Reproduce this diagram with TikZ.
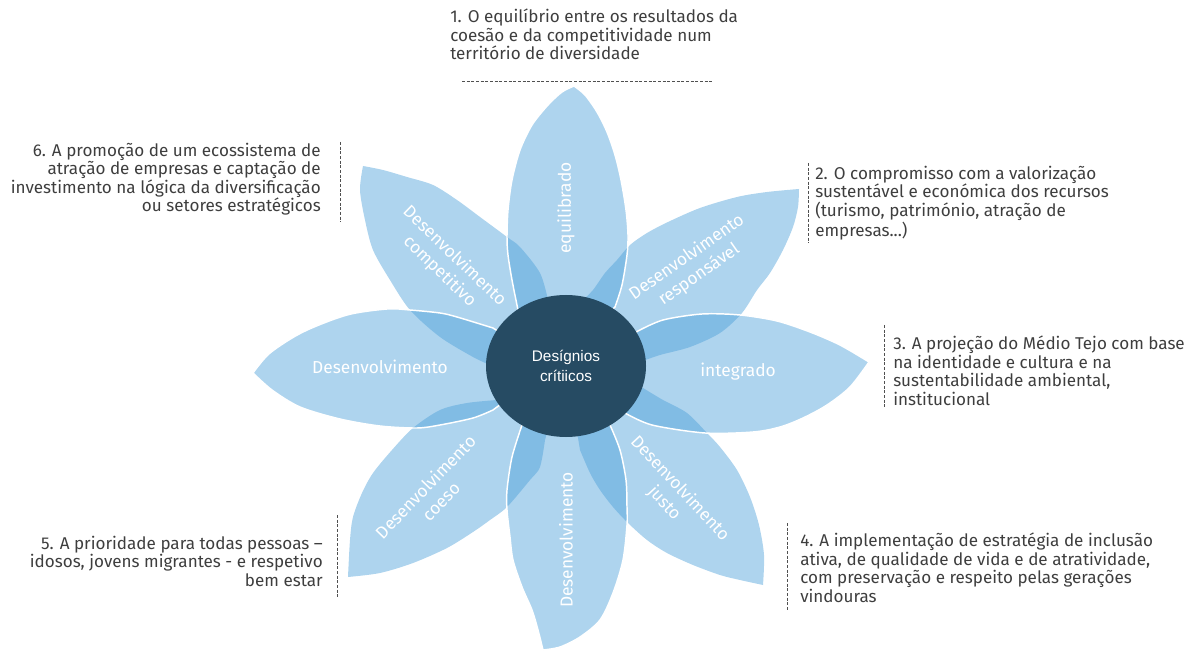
\documentclass[tikz,border=0pt]{standalone}
\usepackage{fontspec}
\setmainfont{Fira Sans}
\newfontfamily\corefont{Liberation Sans}
\definecolor{petalblue}{RGB}{75,159,217}
\definecolor{coreblue}{RGB}{38,75,99}
\definecolor{descgray}{RGB}{62,62,62}
\definecolor{dashgray}{RGB}{80,80,80}
\begin{document}
\begin{tikzpicture}[x=0.75pt,y=-0.75pt,
  petal/.style={fill=petalblue, fill opacity=0.45},
  cpetal/.style={petal, draw=white, draw opacity=1, line width=1.1pt, line join=round},
  desc/.style={font=\fontsize{12.8}{13.8}\selectfont, text=descgray, inner sep=0pt},
  plabel/.style={font=\fontsize{13}{16}\selectfont, text=white, align=center, inner sep=0pt},
  dashline/.style={draw=dashgray, line width=0.75pt, dash pattern=on 2.2pt off 1.3pt}]
\useasboundingbox (0,0) rectangle (1196,652);

% diagonal petals (no visible stroke)
\path[petal] (566,366) -- plot[smooth, tension=0.5] coordinates {(548,300) (540,273) (520,247) (507,237) (480,217) (457,200) (433,185) (407,177) (383,170) (363,166)}
  -- plot[smooth, tension=0.5] coordinates {(363,166) (360,190) (365,220) (373,250) (390,280) (410,310) (440,337) (473,357) (490,365)} -- cycle;
\path[petal] (566,366) -- plot[smooth, tension=0.5] coordinates {(583,300) (593,290) (605,273) (617,260) (630,245) (647,233) (668,222) (700,208) (737,197) (767,192) (799,189)}
  -- plot[smooth, tension=0.5] coordinates {(799,189) (798,207) (793,227) (783,250) (770,273) (757,290) (742,313) (720,333) (690,347) (660,355) (640,362)} -- cycle;
\path[petal] (566,366) -- plot[smooth, tension=0.5] coordinates {(643,388) (663,400) (687,413) (707,433) (720,447) (737,470) (750,497) (759,525) (764,555) (763,585)}
  -- plot[smooth, tension=0.5] coordinates {(763,585) (740,580) (720,575) (693,565) (667,553) (647,540) (628,523) (613,507) (600,490) (590,473) (580,450)} -- cycle;
\path[petal] (566,366) -- plot[smooth, tension=0.5] coordinates {(497,400) (467,403) (440,410) (413,428) (392,450) (373,473) (362,493) (353,517) (350,540) (348,577)}
  -- plot[smooth, tension=0.5] coordinates {(348,577) (380,573) (413,563) (447,548) (473,532) (490,520) (507,507) (530,480) (540,467) (545,440)} -- cycle;

% cardinal petals (white outline)
\path[cpetal] (566,350) -- plot[smooth, tension=0.5] coordinates {(518,310) (512,280) (508,255) (507,237) (508,210) (512,180) (520,150) (532,125) (548,105) (562,92) (574,86)}
  -- plot[smooth, tension=0.5] coordinates {(574,86) (585,95) (597,112) (607,132) (615,155) (621,180) (626,210) (628,235) (627,255) (622,285) (615,307)} -- cycle;
\path[cpetal] (580,366) -- plot[smooth, tension=0.5] coordinates {(638,331) (663,320) (702,314) (740,315) (777,321) (810,332) (840,345) (869,362)}
  -- plot[smooth, tension=0.5] coordinates {(869,362) (850,387) (827,405) (803,418) (780,427) (753,432) (705,433) (652,425) (625,413)} -- cycle;
\path[cpetal] (566,380) -- plot[smooth, tension=0.5] coordinates {(610,425) (620,450) (626,480) (627,507) (627,525) (623,560) (613,593) (600,620) (580,637) (560,647) (543,650)}
  -- plot[smooth, tension=0.5] coordinates {(543,650) (538,630) (532,610) (522,587) (513,560) (510,537) (507,510) (507,490) (512,457) (522,425)} -- cycle;
\path[cpetal] (552,366) -- plot[smooth, tension=0.5] coordinates {(493,410) (473,418) (440,425) (417,428) (380,426) (340,419) (300,407) (272,390) (253,373)}
  -- plot[smooth, tension=0.5] coordinates {(253,373) (270,353) (303,332) (347,315) (387,309) (410,310) (440,313) (457,317) (493,328)} -- cycle;

% centre
\path[fill=coreblue] (566,366) ellipse [x radius=60pt, y radius=53.25pt];
\node[font=\corefont\fontsize{11.5}{15}\selectfont, text=white, align=center] (core) at (566,366) {Desígnios\\crítiicos};

% petal labels
\node[plabel, rotate=90] (lab1) at (566,208) {equilibrado};
\node[plabel, rotate=35] (lab2) at (693,266) {Desenvolvimento\\responsável};
\node[plabel] (lab3) at (738,372) {integrado};
\node[plabel, rotate=-47] (lab4) at (672,496) {Desenvolvimento\\justo};
\node[plabel, rotate=90] (lab5) at (566,540) {Desenvolvimento};
\node[plabel, rotate=46] (lab6) at (433,494) {Desenvolvimento\\coeso};
\node[plabel] (lab7) at (380,367) {Desenvolvimento};
\node[plabel, rotate=-44] (lab8) at (447,264) {Desenvolvimento\\competitivo};

% descriptions
\node[desc, anchor=north west, align=left] (t1) at (450,9) {1. O equilíbrio entre os resultados da\\coesão e da competitividade num\\território de diversidade};
\node[desc, anchor=north west, align=left] (t2) at (815,166) {2. O compromisso com a valorização\\sustentável e económica dos recursos\\(turismo, património, atração de\\empresas...)};
\node[desc, anchor=north west, align=left] (t3) at (893,336) {3. A projeção do Médio Tejo com base\\na identidade e cultura e na\\sustentabilidade ambiental,\\institucional};
\node[desc, anchor=north west, align=left] (t4) at (800,533) {4. A implementação de estratégia de inclusão\\ativa, de qualidade de vida e de atratividade,\\com preservação e respeito pelas gerações\\vindouras};
\node[desc, anchor=north east, align=right] (t5) at (323,536) {5. A prioridade para todas pessoas –\\idosos, jovens migrantes - e respetivo\\bem estar};
\node[desc, anchor=north east, align=right] (t6) at (321,143) {6. A promoção de um ecossistema de\\atração de empresas e captação de\\investimento na lógica da diversificação\\ou setores estratégicos};

% dashed rules
\coordinate (d1a) at (462,82); \coordinate (d1b) at (712,82);
\coordinate (d2a) at (808,163); \coordinate (d2b) at (808,243);
\coordinate (d3a) at (884,325); \coordinate (d3b) at (884,408);
\coordinate (d4a) at (787,523); \coordinate (d4b) at (787,610);
\coordinate (d5a) at (337,515); \coordinate (d5b) at (337,597);
\coordinate (d6a) at (340,142); \coordinate (d6b) at (340,222);
\draw[dashline] (d1a) -- (d1b);
\draw[dashline] (d2a) -- (d2b);
\draw[dashline] (d3a) -- (d3b);
\draw[dashline] (d4a) -- (d4b);
\draw[dashline] (d5a) -- (d5b);
\draw[dashline] (d6a) -- (d6b);
\end{tikzpicture}
\end{document}
